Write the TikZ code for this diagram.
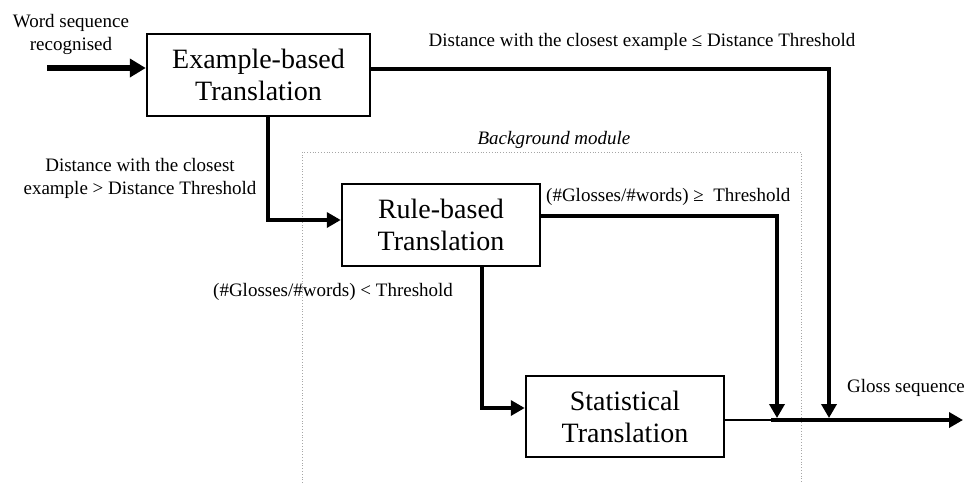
\documentclass[tikz,border=0pt]{standalone}
\usepackage{fontspec}
\setmainfont{Liberation Serif}
\usetikzlibrary{arrows.meta}
\begin{document}
\begin{tikzpicture}[x=1pt,y=-1pt,
  box/.style={draw, line width=2.5pt, align=center, inner sep=0pt,
    font=\fontsize{28}{32}\selectfont},
  lbl/.style={font=\fontsize{19}{23}\selectfont, align=center, inner sep=0pt},
  conn/.style={line width=4.5pt, -{Triangle[length=14pt,width=15pt]}},
  inconn/.style={line width=6pt, -{Triangle[length=16pt,width=18pt]}},
  thinline/.style={line width=2.5pt},
  bgline/.style={draw=gray!70, dotted, line width=0.8pt}]
\useasboundingbox (0,0) rectangle (967,483);

% background module
\draw[bgline] (302,483) -- (302,152) -- (801,152) -- (801,483);
\node[lbl, font=\fontsize{19}{23}\selectfont\itshape] (bm) at (554,140) {Background module};

% boxes
\node[box, minimum width=223pt, minimum height=82pt] (ex) at (258.5,75) {Example-based\\Translation};
\node[box, minimum width=198pt, minimum height=82pt] (rb) at (441,225) {Rule-based\\Translation};
\node[box, minimum width=198pt, minimum height=81pt] (st) at (625,416.5) {Statistical\\Translation};

% coordinates
\coordinate (in) at (47,68);
\coordinate (b1) at (268,220);
\coordinate (c1) at (829,69);
\coordinate (c2) at (777,216);
\coordinate (c3) at (482,408);
\coordinate (gl) at (773,420);
\coordinate (out) at (963,420);

% connectors
\draw[inconn] (in) -- (ex.west |- in);
\draw[conn] (b1 |- ex.south) -- (b1) -- (b1 -| rb.west);
\draw[conn, shorten >=2pt] (ex.east |- c1) -- (c1) -- (c1 |- gl);
\draw[conn, shorten >=2pt] (rb.east |- c2) -- (c2) -- (c2 |- gl);
\draw[conn] (c3 |- rb.south) -- (c3) -- (c3 -| st.west);
\draw[thinline] (st.east |- gl) -- (gl);
\draw[conn] ([xshift=-2pt]gl) -- (out);

% labels
\node[lbl] (win) at (71,34) {Word sequence\\recognised};
\node[lbl] (d1) at (140,178.5) {Distance with the closest\\example > Distance Threshold};
\node[lbl] (d2) at (642,42) {Distance with the closest example ≤ Distance Threshold};
\node[lbl, anchor=west] (g1) at (546,197) {(\#Glosses/\#words) ≥\ \ Threshold};
\node[lbl, anchor=west] (g2) at (213,292) {(\#Glosses/\#words) < Threshold};
\node[lbl, anchor=west] (gs) at (847,388) {Gloss sequence};
\end{tikzpicture}
\end{document}
